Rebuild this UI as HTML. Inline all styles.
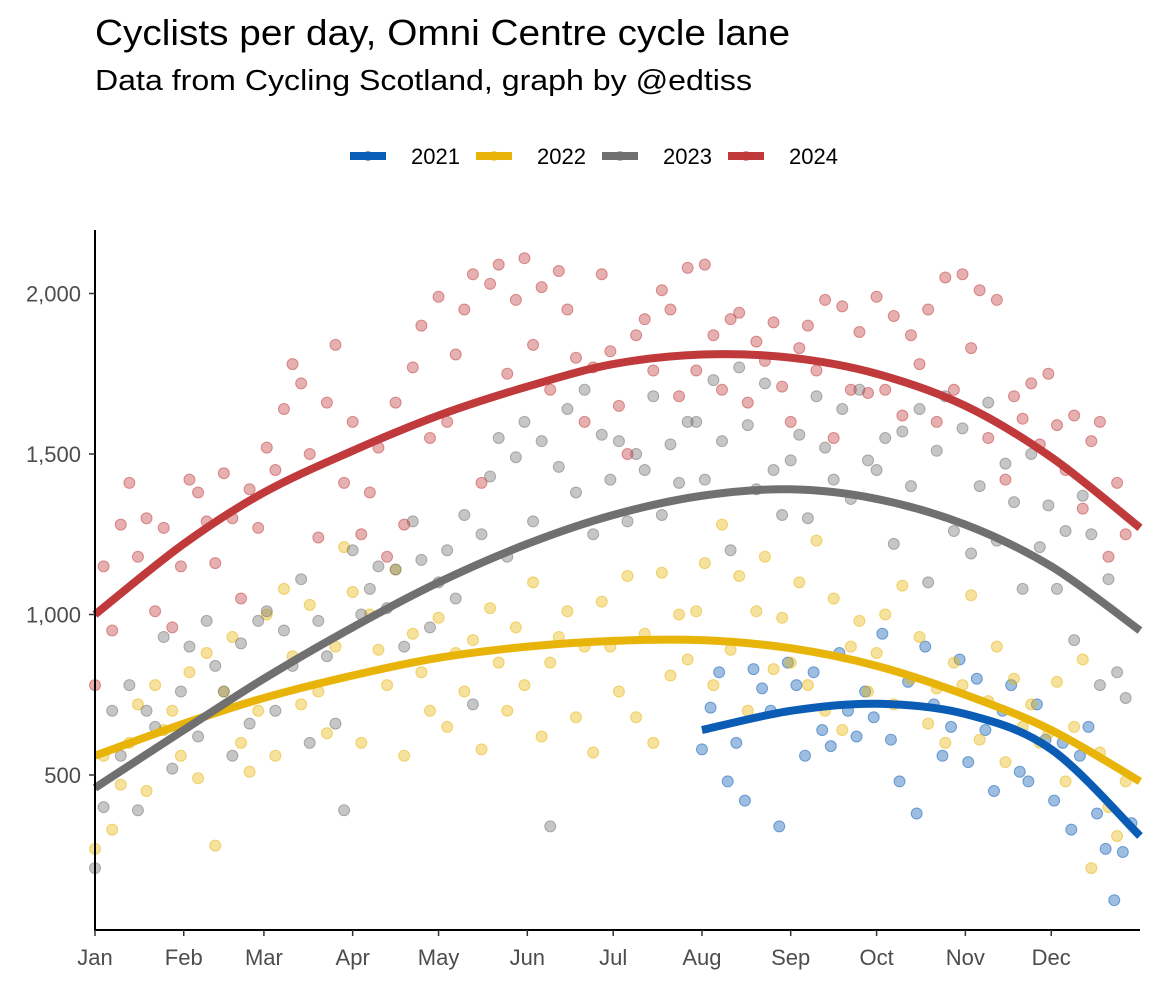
<!DOCTYPE html>
<html><head><meta charset="utf-8">
<style>
body{margin:0;background:#fff;font-family:"Liberation Sans",Arial,sans-serif;}
svg text{font-family:"Liberation Sans",Arial,sans-serif;}
</style></head>
<body>
<svg id="chart" width="1157" height="985" xmlns="http://www.w3.org/2000/svg">
<rect width="1157" height="985" fill="#fff"/>
<text x="95" y="45" font-size="36" textLength="695" lengthAdjust="spacingAndGlyphs" fill="#000">Cyclists per day, Omni Centre cycle lane</text>
<text x="95" y="90" font-size="29" textLength="657" lengthAdjust="spacingAndGlyphs" fill="#000">Data from Cycling Scotland, graph by @edtiss</text>
<g id="legend"></g>
<g id="points"></g>
<g id="curves"></g>
<g id="axes"></g>
</svg>
<script>
const years = ["2021","2022","2023","2024"];
const colors = ["#0b5cb5","#e8b40a","#707070","#c0393b"];
const monthLabels = ["Jan","Feb","Mar","Apr","May","Jun","Jul","Aug","Sep","Oct","Nov","Dec"];
const monthStartDays = [0,31,59,90,120,151,181,212,243,273,304,334];
const yTicks = [500,1000,1500,2000];
const yTickLabels = ["500","1,000","1,500","2,000"];
const pointStep = 3;
const start2021 = 212;
const pts2021 = [580,710,820,480,600,420,830,770,700,340,850,
780,560,820,640,590,880,700,620,760,680,
940,610,480,790,380,900,720,560,650,860,
540,800,640,450,700,780,510,480,720,610,
420,600,330,560,650,380,270,110,260,350];
const pts2022 = [270,560,330,470,600,720,450,780,640,700,560,
820,490,880,280,760,930,600,510,700,
1000,560,1080,870,720,1030,760,630,900,1210,
1070,600,1000,890,780,1140,560,940,820,700,
990,650,880,760,920,580,1020,850,700,960,
780,1100,620,850,930,1010,680,900,570,1040,
900,760,1120,680,940,600,1130,810,1000,860,
1010,1160,780,1280,890,1120,700,1010,1180,830,990,
850,1100,780,1230,700,1050,640,900,980,760,
880,1000,720,1090,800,930,660,770,600,850,
780,1060,610,730,900,540,800,650,720,600,
630,790,480,650,860,210,570,400,310,480];
const pts2023 = [210,400,700,560,780,390,700,650,930,520,760,
900,620,980,840,760,560,910,660,980,
1010,700,950,840,1110,600,980,870,660,390,
1200,1000,1080,1150,1020,1140,900,1290,1170,960,
1100,1200,1050,1310,720,1250,1430,1550,1180,1490,
1600,1290,1540,340,1460,1640,1380,1700,1250,1560,
1420,1540,1290,1500,1450,1680,1310,1530,1410,1600,
1600,1420,1730,1540,1200,1770,1590,1390,1720,1450,1310,
1480,1560,1300,1680,1520,1420,1640,1360,1700,1480,
1450,1550,1220,1570,1400,1640,1100,1510,1680,1260,
1580,1190,1400,1660,1230,1470,1350,1080,1500,1210,
1340,1080,1260,920,1370,1250,780,1110,820,740];
const pts2024 = [780,1150,950,1280,1410,1180,1300,1010,1270,960,1150,
1420,1380,1290,1160,1440,1300,1050,1390,1270,
1520,1450,1640,1780,1720,1500,1240,1660,1840,1410,
1600,1250,1380,1520,1180,1660,1280,1770,1900,1550,
1990,1600,1810,1950,2060,1410,2030,2090,1750,1980,
2110,1840,2020,1700,2070,1950,1800,1600,1770,2060,
1820,1650,1500,1870,1920,1760,2010,1950,1680,2080,
1760,2090,1870,1700,1920,1940,1660,1850,1790,1910,1710,
1600,1830,1900,1760,1980,1550,1960,1700,1880,1690,
1990,1700,1930,1620,1870,1780,1950,1600,2050,1700,
2060,1830,2010,1550,1980,1420,1680,1610,1720,1530,
1750,1590,1450,1620,1330,1540,1600,1180,1410,1250];
const curveDays = [0,31,59,90,120,151,181,212,243,273,304,334,365];
const curveDays2021 = [212,243,273,304,334,365];
const curve2021 = [640,700,722,690,580,310];
const curve2022 = [560,660,740,810,865,900,918,920,895,840,750,640,480];
const curve2023 = [460,640,800,960,1100,1220,1310,1370,1390,1360,1280,1150,950];
const curve2024 = [1000,1220,1380,1510,1620,1710,1780,1810,1800,1750,1650,1490,1270];

const X0=95, X1=1140, Y0=230, Y1=930;
const xs = d => X0 + d*(X1-X0)/365;
const ys = v => 775 - (v-500)*0.321;
const NS="http://www.w3.org/2000/svg";
function mk(tag, parent, attrs){const e=document.createElementNS(NS,tag);for(const k in attrs)e.setAttribute(k,attrs[k]);parent.appendChild(e);return e;}

const pg=document.getElementById('points');
const series=[[start2021,pts2021],[0,pts2022],[0,pts2023],[0,pts2024]];
series.forEach((s,si)=>{
  s[1].forEach((v,i)=>{
    const c=mk('circle',pg,{cx:xs(s[0]+i*pointStep),cy:ys(v),r:5.5,fill:colors[si],'fill-opacity':0.4,stroke:colors[si],'stroke-opacity':0.5,'stroke-width':1});
    
    
  });
});

function smooth(px){let d='M'+px[0][0]+','+px[0][1];for(let i=0;i<px.length-1;i++){const p0=px[Math.max(0,i-1)],p1=px[i],p2=px[i+1],p3=px[Math.min(px.length-1,i+2)];
d+=' C'+(p1[0]+(p2[0]-p0[0])/6)+','+(p1[1]+(p2[1]-p0[1])/6)+' '+(p2[0]-(p3[0]-p1[0])/6)+','+(p2[1]-(p3[1]-p1[1])/6)+' '+p2[0]+','+p2[1];}return d;}
const cg=document.getElementById('curves');
const curves=[[curveDays2021,curve2021],[curveDays,curve2022],[curveDays,curve2023],[curveDays,curve2024]];
curves.forEach((c,ci)=>{
  const px=c[0].map((d,i)=>[xs(d),ys(c[1][i])]);
  const p=mk('path',cg,{d:smooth(px),fill:'none',stroke:colors[ci],'stroke-width':8});
  
  
});

const ag=document.getElementById('axes');
const yl=mk('line',ag,{x1:X0,y1:Y0,x2:X0,y2:Y1,stroke:'#000','stroke-width':2});


const xl=mk('line',ag,{x1:X0-1,y1:Y1,x2:X1,y2:Y1,stroke:'#000','stroke-width':2});


yTicks.forEach((v,i)=>{
  mk('line',ag,{x1:X0-6,y1:ys(v),x2:X0,y2:ys(v),stroke:'#333','stroke-width':1.5});
  const t=mk('text',ag,{x:X0-14,y:ys(v)+8,'text-anchor':'end','font-size':22,fill:'#4d4d4d'});
  t.textContent=yTickLabels[i];
  
  
});
monthStartDays.forEach((d,i)=>{
  mk('line',ag,{x1:xs(d),y1:Y1,x2:xs(d),y2:Y1+6,stroke:'#333','stroke-width':1.5});
  const t=mk('text',ag,{x:xs(d),y:Y1+35,'text-anchor':'middle','font-size':22,fill:'#4d4d4d'});
  t.textContent=monthLabels[i];
  
  
});

const lg=document.getElementById('legend');
const legX=[350,476,602,728];
years.forEach((y,i)=>{
  const g=mk('g',lg,{});
  
  
  mk('line',g,{x1:legX[i],y1:156,x2:legX[i]+36,y2:156,stroke:colors[i],'stroke-width':8});
  mk('circle',g,{cx:legX[i]+18,cy:156,r:5,fill:colors[i],'fill-opacity':0.6});
  const t=mk('text',g,{x:legX[i]+61,y:164,'font-size':22,fill:'#000'});
  t.textContent=y;
});
</script>
</body></html>
